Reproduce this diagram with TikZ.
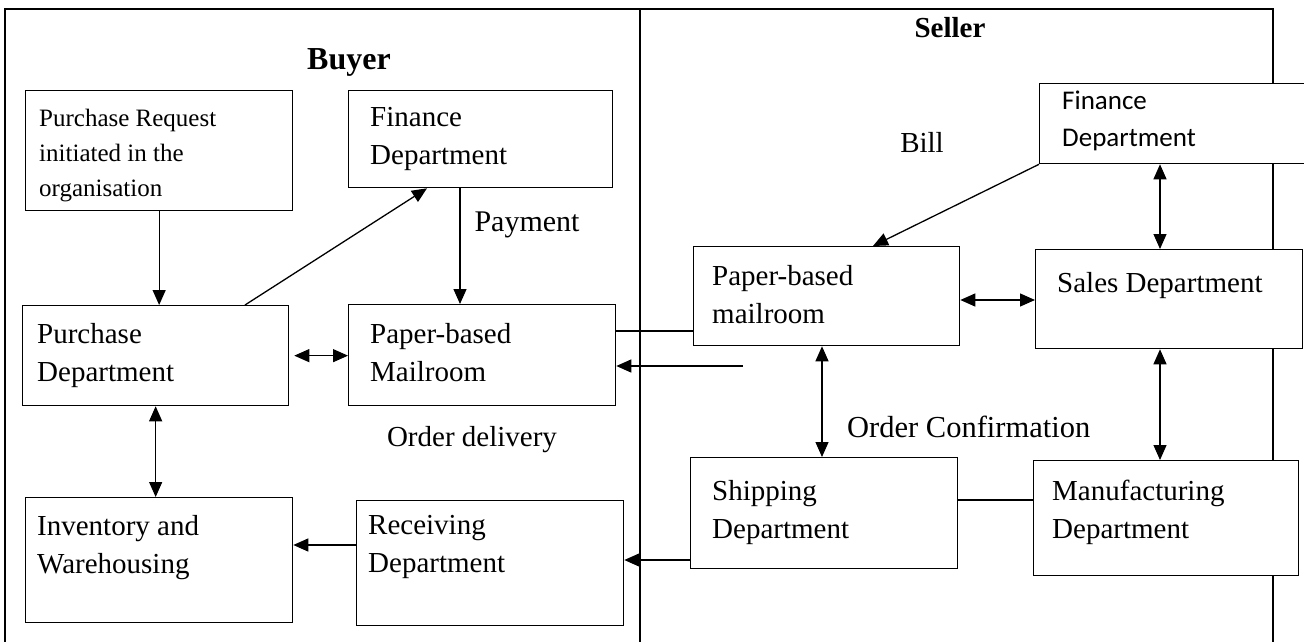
\documentclass[tikz,border=0pt]{standalone}
\usepackage{fontspec}
\setmainfont{Liberation Serif}
\newfontfamily\calib{Carlito}
\usetikzlibrary{arrows.meta,calc}
\begin{document}
\begin{tikzpicture}[x=1pt,y=-1pt,
  box/.style={draw, line width=1.3pt, fill=white, inner sep=0pt, anchor=north west},
  txt/.style={anchor=north west, inner sep=0pt, align=left, font=\fontsize{29}{38}\selectfont},
  lbl/.style={inner sep=0pt, font=\fontsize{29}{38}\selectfont},
  conn/.style={line width=1.3pt},
  arr/.style={conn, -{Triangle[length=15pt,width=13pt]}},
  darr/.style={conn, {Triangle[length=15pt,width=13pt]}-{Triangle[length=15pt,width=13pt]}},
  framel/.style={line width=1.6pt}]
\useasboundingbox (0,0) rectangle (1304,642);
% frame
\draw[framel] (5,642) -- (5,9) -- (1273,9) -- (1273,642);
\draw[framel] (640,9) -- (640,642);
% titles
\node[lbl, font=\fontsize{32}{38}\selectfont\bfseries] (buyer) at (349,62) {Buyer};
\node[lbl, font=\fontsize{29}{38}\selectfont\bfseries] (seller) at (950,28) {Seller};
% boxes buyer
\node[box, minimum width=267pt, minimum height=120pt] (pr) at (25,90) {};
\node[box, minimum width=264pt, minimum height=97pt] (finb) at (348,90) {};
\node[box, minimum width=266pt, minimum height=100pt] (pd) at (22,305) {};
\node[box, minimum width=267pt, minimum height=101pt] (mailb) at (348,304) {};
\node[box, minimum width=267pt, minimum height=125pt] (inv) at (25,497) {};
\node[box, minimum width=267pt, minimum height=125pt] (rec) at (356,500) {};
% boxes seller
\node[box, minimum width=280pt, minimum height=80pt] (fins) at (1039,83) {};
\node[box, minimum width=266pt, minimum height=99pt] (mails) at (693,246) {};
\node[box, minimum width=267pt, minimum height=99pt] (sales) at (1035,249) {};
\node[box, minimum width=267pt, minimum height=111pt] (ship) at (690,457) {};
\node[box, minimum width=265pt, minimum height=115pt] (manu) at (1033,460) {};
% box texts
\node[txt, font=\fontsize{25}{35}\selectfont] (prt) at (39,109) {Purchase Request\\initiated in the\\organisation};
\node[txt] (finbt) at (370,107) {Finance\\Department};
\node[txt] (pdt) at (37,323) {Purchase\\Department};
\node[txt] (mailbt) at (370,323) {Paper-based\\Mailroom};
\node[txt] (invt) at (37,515) {Inventory and\\Warehousing};
\node[txt] (rect) at (368,515) {Receiving\\Department};
\node[txt, font=\fontsize{27}{37}\selectfont\calib] (finst) at (1062,91) {Finance\\Department};
\node[txt] (mailst) at (712,265) {Paper-based\\mailroom};
\node[txt] (salest) at (1057,272) {Sales Department};
\node[txt] (shipt) at (712,480) {Shipping\\Department};
\node[txt] (manut) at (1052,480) {Manufacturing\\Department};
% labels
\node[lbl, font=\fontsize{30}{38}\selectfont] (payment) at (527,225) {Payment};
\node[lbl] (bill) at (922,142) {Bill};
\node[lbl] (orderdel) at (472,440) {Order delivery};
\node[lbl, anchor=base west, font=\fontsize{30.5}{38}\selectfont] (ordconf) at (847,437) {Order Confirmation};
% connectors buyer
\draw[arr] (pr.south) -- (pr.south |- pd.north);
\draw[arr] ($(finb.south west)+(112,0)$) coordinate (fb1) -- (fb1 |- mailb.north);
\draw[arr] ($(pd.north west)+(223,0)$) -- ($(finb.south west)+(79,0)$);
\draw[darr] ($(pd.east)+(5,0)$) -- (mailb.west |- pd.east);
\draw[darr] (pd.south) -- (pd.south |- inv.north);
\draw[arr] ($(rec.north west)+(0,45)$) coordinate (r1) -- (r1 -| inv.east);
% cross connectors
\draw[conn] ($(mailb.north east)+(0,27)$) coordinate (m1) -- (m1 -| mails.west);
\coordinate (freeend) at (743,366);
\draw[arr] (freeend) -- (freeend -| mailb.east);
\draw[arr] ($(ship.north west)+(0,103)$) coordinate (s1) -- (s1 -| rec.east);
% connectors seller
\draw[arr] (fins.south west) -- ($(mails.north west)+(180,0)$);
\draw[darr] ($(fins.south west)+(121,0)$) coordinate (f1) -- (f1 |- sales.north);
\draw[darr] ($(mails.north east)+(0,54)$) coordinate (ms1) -- (ms1 -| sales.west);
\draw[darr] ($(mails.south west)+(129,0)$) coordinate (ms2) -- (ms2 |- ship.north);
\draw[darr] ($(sales.south west)+(125,0)$) coordinate (sa1) -- (sa1 |- manu.north);
\draw[conn] ($(ship.north east)+(0,43)$) coordinate (sh1) -- (sh1 -| manu.west);
\end{tikzpicture}
\end{document}
